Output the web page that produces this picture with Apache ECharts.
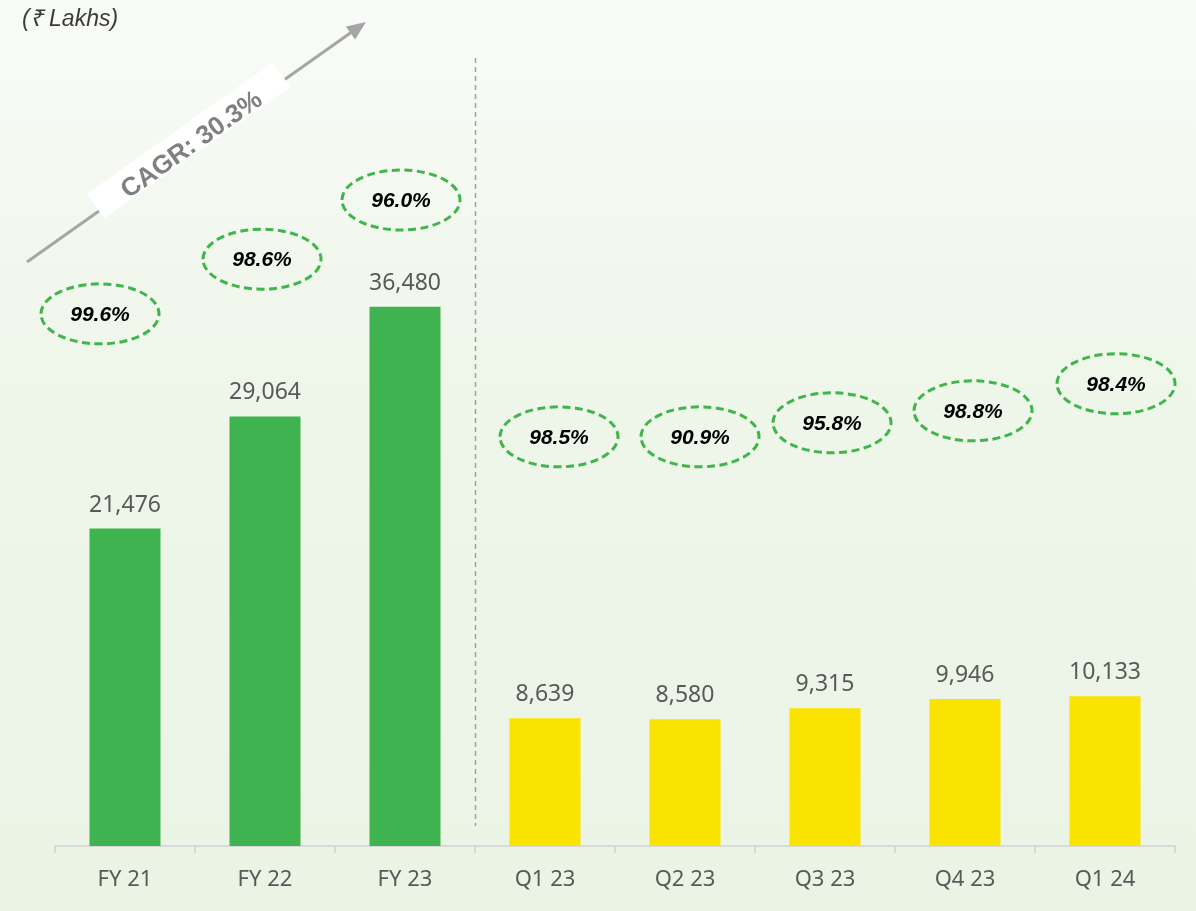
<!DOCTYPE html>
<html>
<head>
<meta charset="utf-8">
<script src="https://cdn.jsdelivr.net/npm/echarts@6/dist/echarts.min.js"></script>
<style>
html,body{margin:0;padding:0;width:1196px;height:911px;overflow:hidden;}
#c{width:1196px;height:911px;background:linear-gradient(180deg,#f9fbf8 0%,#eff6ea 40%,#eaf4e5 100%);}
</style>
</head>
<body>
<div id="c"></div>
<script>
// ---- data ----
const categories = ['FY 21','FY 22','FY 23','Q1 23','Q2 23','Q3 23','Q4 23','Q1 24'];
const revenue = [21476, 29064, 36480, 8639, 8580, 9315, 9946, 10133];
const collectionPct = ['99.6%','98.6%','96.0%','98.5%','90.9%','95.8%','98.8%','98.4%'];
const cagrText = 'CAGR: 30.3%';
const unitText = '(₹ Lakhs)';

// ---- layout (annotation placement, not data) ----
const bubbleLevel = [36000, 39700, 43700, 27680, 27680, 28630, 29440, 31270];
const bubbleDx = [-25, -3, -4, 14, 15, 7, 8, 11];

const GREEN = '#3fb34f', YELLOW = '#fae300';
const chart = echarts.init(document.getElementById('c'), null, {renderer:'canvas'});

const option = {
  animation: false,
  grid: {left: 55, right: 21, top: 33, bottom: 65},
  xAxis: {
    type: 'category', data: categories,
    axisLine: {lineStyle: {color: '#d9d9d9', width: 2}},
    axisTick: {show: true, length: 7, lineStyle: {color: '#d9d9d9', width: 2}},
    axisLabel: {color: '#595959', fontSize: 22, fontFamily: 'Noto Sans', margin: 23}
  },
  yAxis: {type: 'value', min: 0, max: 55000, show: false, splitLine: {show: false}},
  series: [
    {
      type: 'bar', data: revenue, barWidth: 71,
      itemStyle: {color: p => categories[p.dataIndex].startsWith('FY') ? GREEN : YELLOW},
      label: {show: true, position: 'top', distance: 12, color: '#595959', fontSize: 23,
        fontFamily: 'Noto Sans', formatter: p => p.value.toLocaleString('en-US')}
    },
    {
      type: 'custom', z: 5,
      data: categories.map((c, i) => [i, bubbleLevel[i], collectionPct[i]]),
      encode: {x: 0, y: 1},
      renderItem: function (params, api) {
        const i = params.dataIndex;
        const pt = api.coord([api.value(0), api.value(1)]);
        const cx = pt[0] + bubbleDx[i], cy = pt[1];
        return {
          type: 'group',
          children: [
            {type: 'ellipse', shape: {cx: cx, cy: cy, rx: 59, ry: 30},
             style: {fill: 'rgba(0,0,0,0)', stroke: '#3fb54b', lineWidth: 3, lineDash: [8, 4.5]}},
            {type: 'text', x: cx, y: cy + 1,
             style: {text: collectionPct[i], fill: '#000', fontSize: 21, fontWeight: 'bold',
               fontStyle: 'italic', fontFamily: 'Liberation Sans, Arial, sans-serif',
               align: 'center', verticalAlign: 'middle'}}
          ]
        };
      }
    }
  ]
};
chart.setOption(option);

// divider between annual and quarterly
const x2 = chart.convertToPixel({xAxisIndex: 0}, 2);
const x3 = chart.convertToPixel({xAxisIndex: 0}, 3);
const divX = Math.round((x2 + x3) / 2) + 0.5;

// CAGR arrow geometry
const ax0 = 27, ay0 = 262, ax1 = 366, ay1 = 22;
const ang = Math.atan2(ay0 - ay1, ax1 - ax0); // upward angle
const midX = 192, midY = ay0 - (midX - ax0) * (ay0 - ay1) / (ax1 - ax0);

chart.setOption({
  graphic: [
    {type: 'line', shape: {x1: divX, y1: 58, x2: divX, y2: 826},
     style: {stroke: '#a0a0a0', lineWidth: 1.5, lineDash: [5, 4]}, z: 1},
    {type: 'text', left: 22, top: 8,
     style: {text: unitText, fill: '#3a3a3a', fontSize: 23, fontStyle: 'italic',
       fontFamily: 'Liberation Sans, Arial, sans-serif'}},
    {type: 'line', z: 2, shape: {x1: ax0, y1: ay0, x2: ax1 - 14 * Math.cos(ang), y2: ay1 + 14 * Math.sin(ang)},
     style: {stroke: '#a6a6a6', lineWidth: 3}},
    {type: 'polygon', z: 3, x: ax1, y: ay1, rotation: ang,
     shape: {points: [[0, 0], [-19, -8], [-19, 8]]}, style: {fill: '#a6a6a6'}},
    {type: 'rect', z: 10, x: midX, y: midY, rotation: ang,
     shape: {x: -114, y: -21, width: 228, height: 30}, style: {fill: '#ffffff'}},
    {type: 'text', z: 11, x: midX, y: midY, rotation: ang,
     style: {text: cagrText, fill: '#808080', fontSize: 26, fontWeight: 'bold',
       fontFamily: 'Liberation Sans, Arial, sans-serif', align: 'center', verticalAlign: 'middle'}}
  ]
});
</script>
</body>
</html>
